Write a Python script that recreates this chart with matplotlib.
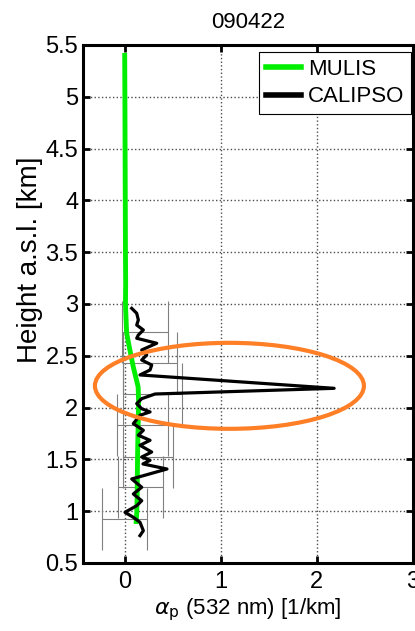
import matplotlib
matplotlib.use("Agg")
import matplotlib.pyplot as plt
from matplotlib.patches import Ellipse

plt.rcParams['font.family'] = ['Liberation Sans', 'DejaVu Sans']

# MULIS lidar extinction profile (height km, alpha 1/km)
mulis_h = [5.40, 5.00, 4.50, 4.00, 3.50, 3.20, 3.00, 2.72, 2.55, 2.39, 2.20,
           2.05, 1.91, 1.75, 1.59, 1.37, 1.15, 0.98, 0.90]
mulis_a = [0.000, 0.002, 0.004, 0.006, 0.008, 0.010, 0.008, 0.020, 0.055, 0.090,
           0.140, 0.145, 0.142, 0.138, 0.135, 0.132, 0.130, 0.125, 0.120]

# CALIPSO extinction profile
calipso_h = [2.958, 2.910, 2.846, 2.797, 2.749, 2.701, 2.669, 2.621, 2.556, 2.508,
             2.459, 2.411, 2.363, 2.315, 2.186, 2.131, 2.086, 2.038, 1.989, 1.958,
             1.926, 1.845, 1.813, 1.781, 1.733, 1.684, 1.636, 1.571, 1.523, 1.491,
             1.456, 1.407, 1.311, 1.231, 1.166, 1.101, 1.053, 0.989, 0.941, 0.893,
             0.812, 0.764]
calipso_a = [0.073, 0.125, 0.142, 0.125, 0.194, 0.142, 0.125, 0.333, 0.177, 0.229,
             0.177, 0.281, 0.264, 0.159, 2.180, 0.316, 0.177, 0.125, 0.177, 0.264,
             0.159, 0.090, 0.142, 0.194, 0.142, 0.264, 0.159, 0.281, 0.177, 0.264,
             0.190, 0.440, 0.073, 0.177, 0.090, 0.177, 0.125, 0.003, 0.090, 0.159,
             0.194, 0.159]

# averaged CALIPSO layers: height and lower/upper extinction bound
err_h = [2.73, 2.43, 2.13, 1.83, 1.52, 1.23, 0.925]
err_lo = [-0.031, -0.018, -0.018, -0.083, -0.018, -0.070, -0.240]
err_hi = [0.454, 0.542, 0.594, 0.454, 0.503, 0.402, 0.229]

yticks = [0.5, 1, 1.5, 2, 2.5, 3, 3.5, 4, 4.5, 5, 5.5]
ytick_labels = ['0.5', '1', '1.5', '2', '2.5', '3', '3.5', '4', '4.5', '5', '5.5']
xticks = [0, 1, 2, 3]

fig = plt.figure(figsize=(4.15, 6.31), dpi=100)
ax = fig.add_axes([0.2, 0.1078, 0.795, 0.8209])

# x error bars with tall caps spanning each layer
err_c = [(lo + hi) / 2 for lo, hi in zip(err_lo, err_hi)]
err_w = [(hi - lo) / 2 for lo, hi in zip(err_lo, err_hi)]
ax.errorbar(err_c, err_h, xerr=err_w, fmt='none', ecolor='0.5',
            elinewidth=0.8, capsize=22, capthick=0.8, zorder=2)

ax.plot(mulis_a, mulis_h, color='#00ee00', lw=3.5, label='MULIS', zorder=3)
ax.plot(calipso_a, calipso_h, color='black', lw=2.3, label='CALIPSO', zorder=4)

ax.add_patch(Ellipse((1.09, 2.21), 2.80, 0.83, fill=False,
                     edgecolor='#ff7f27', lw=3.0, zorder=5))

ax.set_xlim(-0.434, 3.0)
ax.set_ylim(0.5, 5.5)
ax.set_xticks(xticks)
ax.set_yticks(yticks)
ax.set_yticklabels(ytick_labels)
ax.tick_params(direction='in', length=5, width=2, labelsize=17,
               top=True, right=True)
ax.tick_params(axis='x', pad=6)
ax.grid(True, linestyle=':', color='0.3', lw=1)
for sp in ax.spines.values():
    sp.set_linewidth(2.2)

ax.set_title('090422', fontsize=16, pad=12)
ax.set_xlabel(r'$\alpha_\mathrm{p}$ (532 nm) [1/km]', fontsize=16, labelpad=2)
ax.set_ylabel('Height a.s.l. [km]', fontsize=20, labelpad=0)
ax.yaxis.set_label_coords(-0.12, 0.585)

leg = ax.legend(loc='upper right', bbox_to_anchor=(0.994, 0.9865),
                borderaxespad=0, fontsize=16, fancybox=False,
                edgecolor='black', framealpha=1, handlelength=1.6,
                handletextpad=0.3, labelspacing=0.3, borderpad=0.3)
leg.get_frame().set_linewidth(0.8)
for line in leg.get_lines():
    line.set_linewidth(4)

fig.savefig('out.png', dpi=100)
